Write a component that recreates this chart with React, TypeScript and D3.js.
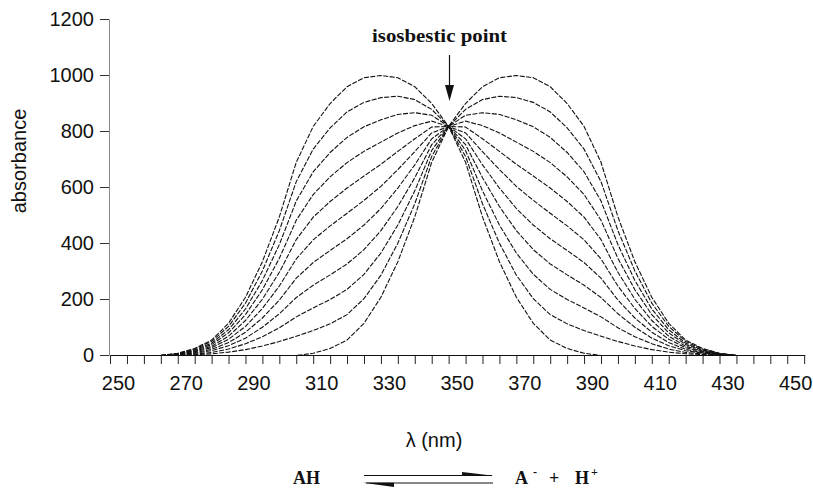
import React from 'react';
import * as d3 from 'd3';

// wavelengths (nm) of the recorded points
const wavelengths = [
  262.5, 267.5, 272.5, 277.5, 282.5, 287.5, 292.5, 297.5, 302.5, 307.5,
  312.5, 317.5, 322.5, 327.5, 332.5, 337.5, 342.5, 347.5, 352.5, 357.5,
  362.5, 367.5, 372.5, 377.5, 382.5, 387.5, 392.5, 397.5, 402.5, 407.5,
  412.5, 417.5, 422.5, 427.5, 432.5,
];

// absorbance spectra, from pure AH (ah100) down to pure A- (ah0)
const ah100 = [0, 8, 25, 55, 115, 208, 335, 495, 690, 818, 900, 960, 992, 1000, 992, 960, 900, 818, 690, 495, 335, 208, 115, 55, 25, 8, 0, 0, 0, 0, 0, 0, 0, 0, 0];
const ah90 = [0, 7, 23, 50, 104, 187, 302, 446, 621, 737, 813, 870, 904, 921, 926, 914, 879, 818, 711, 542, 401, 287, 203, 146, 113, 89, 69, 50, 34, 21, 12, 6, 3, 1, 0];
const ah80 = [0, 6, 20, 44, 92, 166, 268, 396, 552, 656, 725, 779, 817, 842, 861, 867, 858, 818, 732, 588, 466, 366, 290, 236, 200, 170, 138, 99, 67, 42, 23, 11, 5, 2, 0];
const ah70 = [0, 6, 18, 39, 81, 146, 235, 347, 483, 575, 638, 689, 729, 762, 795, 821, 837, 818, 753, 635, 532, 446, 378, 327, 288, 251, 207, 149, 101, 62, 35, 17, 8, 2, 0];
const ah60 = [0, 5, 15, 33, 69, 125, 201, 297, 414, 494, 550, 598, 641, 683, 729, 774, 816, 818, 774, 681, 598, 525, 466, 417, 375, 332, 276, 198, 134, 83, 46, 22, 10, 3, 0];
const ah50 = [0, 4, 13, 28, 58, 104, 168, 248, 345, 413, 463, 508, 554, 604, 664, 728, 795, 818, 795, 728, 664, 604, 554, 508, 463, 413, 345, 248, 168, 104, 58, 28, 13, 4, 0];
const ah40 = [0, 3, 10, 22, 46, 83, 134, 198, 276, 332, 375, 417, 466, 525, 598, 681, 774, 818, 816, 774, 729, 683, 641, 598, 550, 494, 414, 297, 201, 125, 69, 33, 15, 5, 0];
const ah30 = [0, 2, 8, 17, 35, 62, 101, 149, 207, 251, 288, 327, 378, 446, 532, 635, 753, 818, 837, 821, 795, 762, 729, 689, 638, 575, 483, 347, 235, 146, 81, 39, 18, 6, 0];
const ah20 = [0, 2, 5, 11, 23, 42, 67, 99, 138, 170, 200, 236, 290, 366, 466, 588, 732, 818, 858, 867, 861, 842, 817, 779, 725, 656, 552, 396, 268, 166, 92, 44, 20, 6, 0];
const ah10 = [0, 1, 3, 6, 12, 21, 34, 50, 69, 89, 113, 146, 203, 287, 401, 542, 711, 818, 879, 914, 926, 921, 904, 870, 813, 737, 621, 446, 302, 187, 104, 50, 23, 7, 0];
const ah0 = [0, 0, 0, 0, 0, 0, 0, 0, 0, 8, 25, 55, 115, 208, 335, 495, 690, 818, 900, 960, 992, 1000, 992, 960, 900, 818, 690, 495, 335, 208, 115, 55, 25, 8, 0];

const spectra = [ah100, ah90, ah80, ah70, ah60, ah50, ah40, ah30, ah20, ah10, ah0];

const xLabels = [250, 270, 290, 310, 330, 350, 370, 390, 410, 430, 450];
const yTicks = [0, 200, 400, 600, 800, 1000, 1200];

const SANS = "'Liberation Sans', Arial, Helvetica, sans-serif";
const SERIF = "'Liberation Serif', 'Times New Roman', serif";

const App: React.FC = () => {
  const svgRef = React.useRef<SVGSVGElement>(null);
  const width = 813;
  const height = 489;

  React.useEffect(() => {
    if (!svgRef.current) return;

    const svg = d3.select(svgRef.current);
    svg.selectAll('*').remove();

    const x = d3.scaleLinear().domain([250, 450]).range([118.5, 795.7]);
    const y = d3.scaleLinear().domain([0, 1200]).range([355, 19]);

    // Y axis
    const yAxis = svg.append('g')
      .attr('transform', 'translate(109,0)')
      .call(d3.axisLeft(y).tickValues(yTicks).tickSize(9).tickSizeOuter(0).tickPadding(6).tickFormat(d3.format('d')));
    yAxis.attr('font-family', SANS).attr('font-size', 20);
    yAxis.select('.domain').attr('stroke', '#8a8a8a');
    yAxis.selectAll('.tick line').attr('stroke', '#333');
    yAxis.selectAll('.tick text').attr('fill', '#111');

    // X axis: a tick every 5 nm, labels every 20 nm
    const xAxis = svg.append('g')
      .attr('transform', 'translate(0,355)')
      .call(d3.axisBottom(x).tickValues(d3.range(247.5, 455, 5)).tickSize(9).tickFormat(() => ''));
    xAxis.select('.domain').remove();
    xAxis.selectAll('.tick line').attr('stroke', '#222');

    svg.append('line')
      .attr('x1', x(247.5))
      .attr('x2', x(452.5) + 1)
      .attr('y1', 355.5)
      .attr('y2', 355.5)
      .attr('stroke', '#111')
      .attr('stroke-width', 1.2);

    svg.append('g')
      .attr('font-family', SANS)
      .attr('font-size', 20)
      .attr('fill', '#111')
      .attr('text-anchor', 'middle')
      .selectAll('text')
      .data(xLabels)
      .join('text')
      .attr('x', d => x(d))
      .attr('y', 390)
      .text(d => d);

    // spectra
    const line = d3.line<number>()
      .x((_, i) => x(wavelengths[i]))
      .y(d => y(d) + 0.5);

    svg.append('g')
      .selectAll('path')
      .data(spectra)
      .join('path')
      .attr('d', d => line(d))
      .attr('fill', 'none')
      .attr('stroke', '#111')
      .attr('stroke-width', 1.1)
      .attr('stroke-dasharray', '5 1.5');

    // axis titles
    svg.append('text')
      .attr('transform', 'translate(26,161) rotate(-90)')
      .attr('text-anchor', 'middle')
      .attr('font-family', SANS)
      .attr('font-size', 20)
      .attr('fill', '#111')
      .text('absorbance');

    svg.append('text')
      .attr('x', 434)
      .attr('y', 447)
      .attr('text-anchor', 'middle')
      .attr('font-family', SANS)
      .attr('font-size', 20)
      .attr('fill', '#111')
      .text('λ (nm)');

    // isosbestic point annotation
    svg.append('text')
      .attr('x', 372)
      .attr('y', 42)
      .attr('font-family', SERIF)
      .attr('font-weight', 'bold')
      .attr('font-size', 19)
      .attr('textLength', 135)
      .attr('lengthAdjust', 'spacingAndGlyphs')
      .attr('fill', '#111')
      .text('isosbestic point');

    svg.append('line')
      .attr('x1', 449.5)
      .attr('x2', 449.5)
      .attr('y1', 55)
      .attr('y2', 88)
      .attr('stroke', '#111')
      .attr('stroke-width', 1.2);
    svg.append('path')
      .attr('d', 'M445,85L454,85L449.5,101Z')
      .attr('fill', '#111');

    // equilibrium AH <=> A- + H+
    const eq = svg.append('g')
      .attr('font-family', SERIF)
      .attr('font-weight', 'bold')
      .attr('font-size', 18)
      .attr('fill', '#111');
    eq.append('text').attr('x', 293).attr('y', 484).text('AH');
    eq.append('text').attr('x', 515).attr('y', 484).text('A');
    eq.append('text').attr('x', 533).attr('y', 476).attr('font-size', 12).text('-');
    eq.append('text').attr('x', 549).attr('y', 484).text('+');
    eq.append('text').attr('x', 575).attr('y', 484).text('H');
    eq.append('text').attr('x', 591).attr('y', 476).attr('font-size', 12).text('+');

    svg.append('line')
      .attr('x1', 364).attr('x2', 492)
      .attr('y1', 475.5).attr('y2', 475.5)
      .attr('stroke', '#111').attr('stroke-width', 1.2);
    svg.append('path').attr('d', 'M462,472L494,475.8L462,475.8Z').attr('fill', '#111');
    svg.append('line')
      .attr('x1', 366).attr('x2', 493)
      .attr('y1', 483).attr('y2', 483)
      .attr('stroke', '#111').attr('stroke-width', 1.2);
    svg.append('path').attr('d', 'M363,482.7L394,482.7L394,487Z').attr('fill', '#111');
  }, []);

  return (
    <svg
      ref={svgRef}
      width={width}
      height={height}
      viewBox={`0 0 ${width} ${height}`}
      style={{ position: 'absolute', left: 0, top: 0, background: '#fff' }}
    />
  );
};

export default App;
